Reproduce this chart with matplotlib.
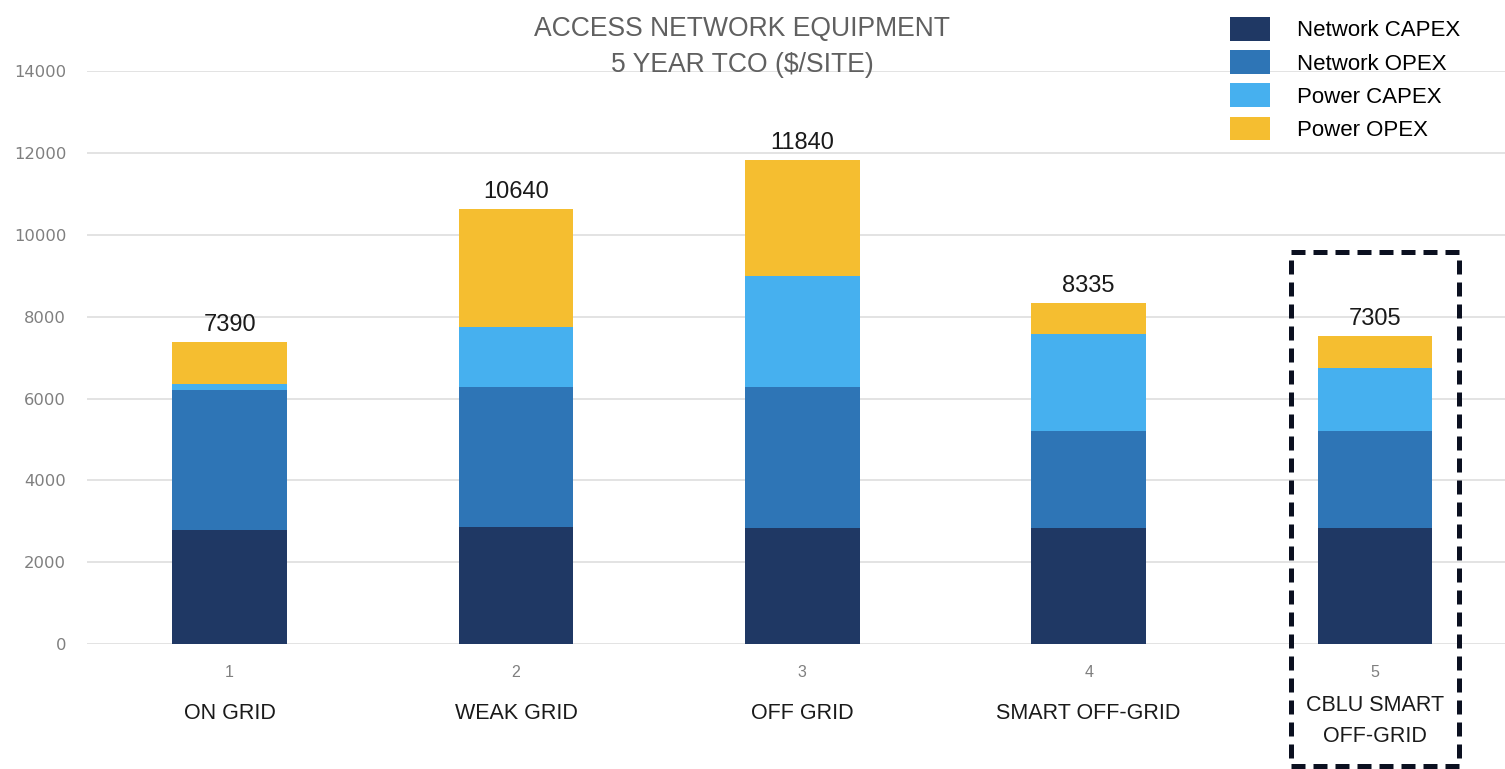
import numpy as np
import matplotlib.pyplot as plt
from matplotlib.patches import Rectangle

# dados
cenarios = ['ON GRID', 'WEAK GRID', 'OFF GRID', 'SMART OFF-GRID', 'CBLU SMART\nOFF-GRID']
numeros = ['1', '2', '3', '4', '5']
net_capex = [2790, 2870, 2830, 2830, 2830]
net_opex = [3410, 3420, 3460, 2390, 2380]
pow_capex = [150, 1470, 2710, 2350, 1550]
pow_opex = [1040, 2880, 2840, 765, 770]
totais = ['7390', '10640', '11840', '8335', '7305']
series = ['Network CAPEX', 'Network OPEX', 'Power CAPEX', 'Power OPEX']

cores = ['#1f3864', '#2e75b6', '#46b0ef', '#f5be30']
fonte = ['Liberation Sans', 'DejaVu Sans']

fig = plt.figure(figsize=(15.05, 7.69), dpi=100)
ax = fig.add_axes([0.0578, 0.1625, 0.9422, 0.7446])

x = np.arange(len(cenarios))
base = np.zeros(len(cenarios))
for vals, cor, nome in zip([net_capex, net_opex, pow_capex, pow_opex], cores, series):
    ax.bar(x, vals, 0.4, bottom=base, color=cor, label=nome, zorder=2)
    base = base + np.array(vals)

# rotulos de total acima das barras
for i, t in enumerate(totais):
    ax.annotate(t, xy=(x[i], base[i]), xytext=(0, 7.7), textcoords='offset points',
                ha='center', va='baseline', fontsize=17, family=fonte, color='#1a1a1a')

# nomes dos cenarios abaixo dos numeros
for i, c in enumerate(cenarios):
    desl = -36.4 if '\n' in c else -42.5
    ax.annotate(c, xy=(x[i], 0), xycoords=('data', 'axes fraction'), xytext=(0, desl),
                textcoords='offset points', ha='center', va='top', fontsize=15.5,
                family=fonte, color='#1a1a1a', linespacing=1.65)

ax.set_xlim(-0.498, 4.454)
ax.set_ylim(0, 14000)
ax.set_yticks(np.arange(0, 14001, 2000))
ax.set_xticks(x, labels=numeros)
ax.grid(axis='y', color='#e0e0e0', linewidth=1.3, zorder=0)
ax.set_axisbelow(True)
for s in ax.spines.values():
    s.set_visible(False)
ax.tick_params(axis='y', length=0, pad=15, labelsize=11.8, labelcolor='#7f7f7f')
ax.tick_params(axis='x', length=0, pad=15, labelsize=11.5, labelcolor='#7f7f7f')
for lb in ax.get_yticklabels():
    lb.set_family(['DejaVu Sans'])
for lb in ax.get_xticklabels():
    lb.set_family(fonte)

# titulo
fig.text(0.493, 0.979, 'ACCESS NETWORK EQUIPMENT\n5 YEAR TCO ($/SITE)', ha='center', va='top',
         fontsize=19.1, family=fonte, color='#606060', linespacing=1.5)

# legenda
ax.legend(loc='upper left', bbox_to_anchor=(0.810, 0.992), bbox_transform=fig.transFigure,
          frameon=False, borderpad=0, prop={'family': fonte, 'size': 16},
          handlelength=1.8, handleheight=1.25, labelspacing=0.4, handletextpad=1.22)

# caixa tracejada em volta do ultimo cenario
ax.add_patch(Rectangle((4 - 0.295, -2980), 0.59, 12565, fill=False, ec='#0b1020',
                       lw=3.6, ls=(0, (2.8, 1.6)), clip_on=False, zorder=3))

fig.savefig('out.png', dpi=100, facecolor='white')
